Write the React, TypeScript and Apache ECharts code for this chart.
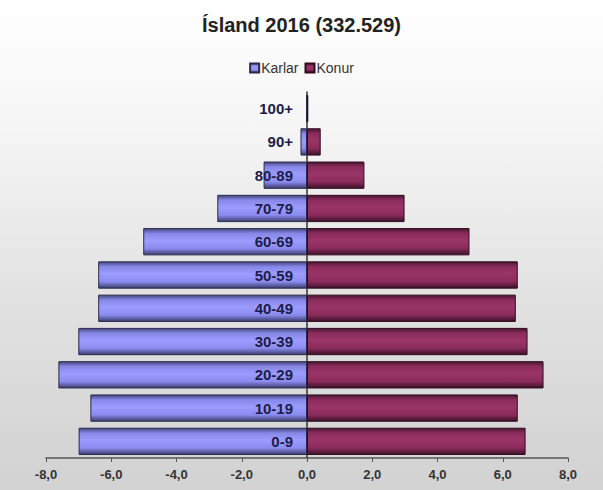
import React, { useEffect, useRef } from "react";
import * as echarts from "echarts";

const titleText = "Ísland 2016 (332.529)";
const categories = ["0-9", "10-19", "20-29", "30-39", "40-49", "50-59", "60-69", "70-79", "80-89", "90+", "100+"];
const karlar = [7.0, 6.64, 7.62, 7.01, 6.4, 6.4, 5.02, 2.75, 1.33, 0.2, 0.02];
const konur = [6.7, 6.46, 7.25, 6.76, 6.4, 6.46, 4.98, 2.99, 1.76, 0.42, 0.04];
const xMin = -8;
const xMax = 8;
const xStep = 2;

export default function App() {
  const ref = useRef<HTMLDivElement>(null);
  useEffect(() => {
    if (!ref.current) return;
    const chart = echarts.init(ref.current, null, { renderer: "svg" });
    const maleGrad = new echarts.graphic.LinearGradient(0, 0, 0, 1, [
      { offset: 0, color: "#45457e" },
      { offset: 0.18, color: "#8686e6" },
      { offset: 0.45, color: "#9c9cff" },
      { offset: 0.75, color: "#8c8cf0" },
      { offset: 1, color: "#3c3c6e" },
    ]);
    const femaleGrad = new echarts.graphic.LinearGradient(0, 0, 0, 1, [
      { offset: 0, color: "#4a1632" },
      { offset: 0.18, color: "#8a2c5c" },
      { offset: 0.45, color: "#9b3468" },
      { offset: 0.75, color: "#8a2c5c" },
      { offset: 1, color: "#3e1129" },
    ]);
    chart.setOption({
      animation: false,
      title: {
        text: titleText,
        left: "center",
        top: 10,
        textStyle: {
          fontFamily: "Liberation Sans",
          fontSize: 20,
          fontWeight: "bold",
          color: "#222",
        },
      },
      legend: {
        top: 56,
        left: "center",
        itemWidth: 9,
        itemHeight: 9,
        itemGap: 6,
        icon: "rect",
        textStyle: {
          fontFamily: "Liberation Sans",
          fontSize: 14,
          color: "#333",
          padding: [0, 0, 0, -3],
        },
        data: ["Karlar", "Konur"],
      },
      grid: { left: 46, right: 35, top: 92, bottom: 32, containLabel: false, outerBoundsMode: "none" },
      xAxis: {
        type: "value",
        min: xMin,
        max: xMax,
        interval: xStep,
        axisLine: { show: true, lineStyle: { color: "#555", width: 1.5 } },
        axisTick: { show: true, inside: false, length: 4, lineStyle: { color: "#555" } },
        splitLine: { show: false },
        axisLabel: {
          margin: 10,
          fontFamily: "Liberation Sans",
          fontSize: 13,
          fontWeight: "bold",
          color: "#333",
          formatter: (v: number) => v.toFixed(1).replace(".", ","),
        },
      },
      yAxis: {
        type: "category",
        data: categories,
        axisLine: { show: true, onZero: true, lineStyle: { color: "#333", width: 1.5 } },
        axisTick: { show: false },
        axisLabel: { show: false },
      },
      series: [
        {
          name: "Karlar",
          type: "bar",
          barGap: "-100%",
          barCategoryGap: "18%",
          data: karlar.map((v) => -v),
          itemStyle: { color: maleGrad, borderColor: "#2a2a4a", borderWidth: 1 },
        },
        {
          name: "Konur",
          type: "bar",
          barGap: "-100%",
          barCategoryGap: "18%",
          data: konur,
          itemStyle: { color: femaleGrad, borderColor: "#2e0c1e", borderWidth: 1 },
        },
        {
          name: "labels",
          type: "bar",
          barGap: "-100%",
          barCategoryGap: "18%",
          z: 10,
          silent: true,
          data: categories.map(() => 0),
          itemStyle: { color: "rgba(0,0,0,0)", borderWidth: 0 },
          label: {
            show: true,
            position: "left",
            distance: 14,
            formatter: (p: any) => categories[p.dataIndex],
            fontFamily: "Liberation Sans",
            fontSize: 15,
            fontWeight: "bold",
            color: "#1c1c48",
          },
        },
      ],
    });
    return () => chart.dispose();
  }, []);
  return (
    <div
      style={{
        position: "fixed",
        left: 0,
        top: 0,
        width: 603,
        height: 490,
        background: "linear-gradient(180deg, #ffffff 0%, #f6f6f6 25%, #e2e2e2 60%, #d2d2d2 100%)",
      }}
    >
      <div ref={ref} style={{ width: 603, height: 490 }} />
    </div>
  );
}
